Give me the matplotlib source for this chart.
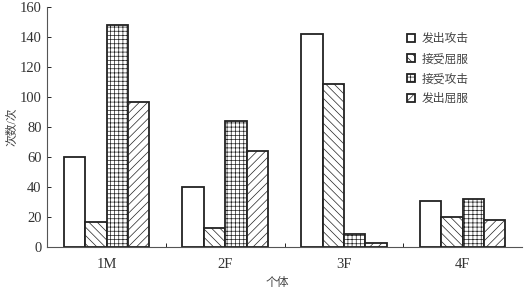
import matplotlib
matplotlib.use("Agg")
import matplotlib.pyplot as plt
import numpy as np

plt.rcParams['font.family'] = ['Liberation Serif', 'Noto Sans CJK SC']
plt.rcParams['hatch.linewidth'] = 0.5

# data
individuals = ['1M', '2F', '3F', '4F']
series_names = ['发出攻击', '接受屈服', '接受攻击', '发出屈服']
attack_out = [60, 40, 142, 31]
submit_in = [17, 13, 109, 20]
attack_in = [148, 84, 9, 32]
submit_out = [97, 64, 3, 18]
series = [attack_out, submit_in, attack_in, submit_out]
hatches = ['', '\\\\\\\\', '++++', '////']

fig = plt.figure(figsize=(5.24, 2.92), dpi=100)
ax = fig.add_axes([0.09, 0.154, 0.906, 0.822])

x = np.arange(len(individuals))
w = 0.18
for i, vals in enumerate(series):
    ax.bar(x + (i - 1.5) * w, vals, w, color='white', edgecolor='#222222',
           linewidth=1.3, hatch=hatches[i], label=series_names[i])

ax.set_xlim(-0.5, 3.5)
ax.set_ylim(0, 160)
ax.set_yticks(range(0, 161, 20))
ax.set_xticks(x)
ax.set_xticklabels(individuals)
ax.set_xticks([0.5, 1.5, 2.5], minor=True)
ax.tick_params(axis='x', which='major', length=0, labelsize=10.5, pad=8,
               labelcolor='#333333')
ax.tick_params(axis='x', which='minor', direction='in', length=3, width=0.6)
ax.tick_params(axis='y', direction='in', length=3, width=0.6, labelsize=10.5,
               labelcolor='#333333', pad=4)
for s in ['top', 'right']:
    ax.spines[s].set_visible(False)
for s in ['left', 'bottom']:
    ax.spines[s].set_color('#555555')
    ax.spines[s].set_linewidth(0.8)

ax.set_ylabel('次数/次', fontsize=8.5, labelpad=1, color='#444444')
ax.set_xlabel('个体', fontsize=8.5, color='#444444')
ax.xaxis.set_label_coords(0.485, -0.125)

leg = ax.legend(loc='upper left', bbox_to_anchor=(0.735, 0.935), frameon=False,
                fontsize=8.5, handlelength=0.7, handleheight=0.7,
                handletextpad=0.6, labelspacing=0.68)
for t in leg.get_texts():
    t.set_color('#444444')

fig.savefig('out.png', dpi=100)
